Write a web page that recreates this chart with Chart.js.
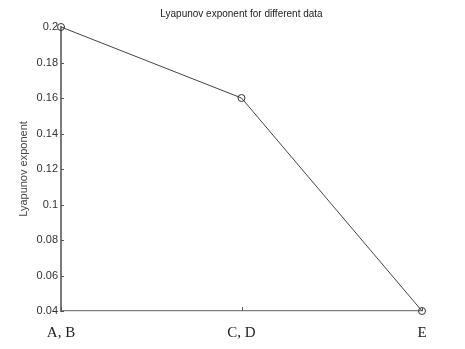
<!DOCTYPE html>
<html>
<head>
<meta charset="utf-8">
<script src="https://cdn.jsdelivr.net/npm/chart.js@4.4.0/dist/chart.umd.min.js"></script>
<style>
  html, body { margin: 0; padding: 0; background: #fff; }
  #wrap { width: 465px; height: 349px; }
</style>
</head>
<body>
<div id="wrap"><canvas id="myChart"></canvas></div>
<script>
const categories = ['A, B', 'C, D', 'E'];
const lyapunov = [0.2, 0.16, 0.04];
const yMin = 0.04;
const yMax = 0.2;
const yStep = 0.02;

// small inward tick marks, MATLAB style
const innerTicks = {
  id: 'innerTicks',
  afterDatasetsDraw(chart) {
    const { ctx, chartArea, scales } = chart;
    ctx.save();
    ctx.strokeStyle = '#555';
    ctx.lineWidth = 1;
    ctx.beginPath();
    scales.y.ticks.forEach((t, i) => {
      const y = Math.round(scales.y.getPixelForTick(i)) + 0.5;
      ctx.moveTo(chartArea.left, y);
      ctx.lineTo(chartArea.left + 3, y);
    });
    scales.x.ticks.forEach((t, i) => {
      const x = Math.round(scales.x.getPixelForTick(i)) + 0.5;
      ctx.moveTo(x, chartArea.bottom);
      ctx.lineTo(x, chartArea.bottom - 4);
    });
    ctx.stroke();
    ctx.restore();
  }
};

const ctx = document.getElementById('myChart');
new Chart(ctx, {
  type: 'line',
  data: {
    labels: categories,
    datasets: [{
      label: 'Lyapunov exponent',
      data: lyapunov,
      borderColor: '#444',
      borderWidth: 1,
      pointRadius: 3.5,
      pointBorderWidth: 1,
      pointBorderColor: '#333',
      pointBackgroundColor: 'rgba(0,0,0,0)',
      tension: 0,
      clip: false
    }]
  },
  options: {
    responsive: true,
    maintainAspectRatio: false,
    animation: false,
    layout: { padding: { left: 0, right: 43, top: 0, bottom: 0 } },
    plugins: {
      legend: { display: false },
      tooltip: { enabled: false },
      title: {
        display: true,
        fullSize: false,
        text: 'Lyapunov exponent for different data',
        color: '#222',
        font: { family: 'Liberation Sans', size: 10, weight: 'normal', lineHeight: 1.2 },
        padding: { top: 8, bottom: 7 }
      }
    },
    scales: {
      x: {
        type: 'category',
        offset: false,
        grid: { display: true, drawOnChartArea: false, drawTicks: false },
        border: { display: true, color: '#808080', width: 1.2 },
        ticks: {
          color: '#222',
          padding: 13,
          maxRotation: 0,
          font: { family: 'Liberation Serif', size: 15 }
        },
        afterFit(scale) { scale.height = 38; }
      },
      y: {
        min: yMin,
        max: yMax,
        grid: { display: true, drawOnChartArea: false, drawTicks: false },
        border: { display: true, color: '#7a7a7a', width: 2 },
        ticks: {
          stepSize: yStep,
          color: '#333',
          padding: 3,
          font: { family: 'Liberation Sans', size: 11 },
          callback: v => String(+v.toFixed(2))
        },
        title: {
          display: true,
          text: 'Lyapunov exponent',
          color: '#444',
          font: { family: 'Liberation Sans', size: 11 },
          padding: { top: 17, bottom: 0 }
        },
        afterFit(scale) { scale.width = 61; }
      }
    }
  },
  plugins: [innerTicks]
});
</script>
</body>
</html>
